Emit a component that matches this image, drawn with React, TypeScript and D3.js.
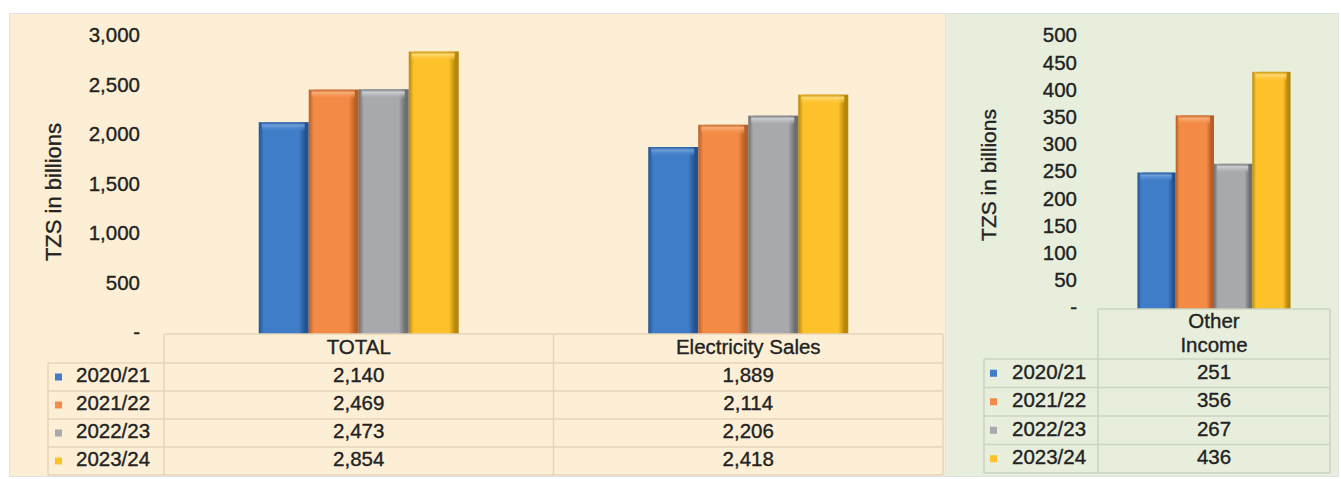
import React from "react";
import * as d3 from "d3";

const years = ["2020/21", "2021/22", "2022/23", "2023/24"];
const leftCategories = ["TOTAL", "Electricity Sales"];
const rightCategories = ["Other Income"];
const totalValues = [2140, 2469, 2473, 2854];
const electricityValues = [1889, 2114, 2206, 2418];
const otherIncomeValues = [251, 356, 267, 436];
const leftTicks = [0, 500, 1000, 1500, 2000, 2500, 3000];
const rightTicks = [0, 50, 100, 150, 200, 250, 300, 350, 400, 450, 500];
const axisTitle = "TZS in billions";

const seriesColors = [
  { base: "#3F7DC8", light: "#6E9FDB", dark: "#23528F" },
  { base: "#F38A45", light: "#F8AE78", dark: "#B65E25" },
  { base: "#A7A9AC", light: "#CDCFD2", dark: "#6C6E72" },
  { base: "#FDC12A", light: "#FFDA70", dark: "#B7870C" },
];

const W = 1341;
const H = 479;
const FONT = "'Liberation Sans', Arial, sans-serif";
const FS = 20.5;
const fmt = (v: number) => (v === 0 ? "-" : d3.format(",")(v));

function Bar({ x, y, w, h, ci }: { x: number; y: number; w: number; h: number; ci: number }) {
  return (
    <g>
      <rect x={x} y={y} width={w} height={h} fill={`url(#hg${ci})`} />
      <rect x={x + 3} y={y} width={w - 7} height={Math.min(10, h)} fill={`url(#vg${ci})`} rx={3} />
    </g>
  );
}

export default function App() {
  const lx = d3.scaleBand<string>().domain(leftCategories).range([164, 943]).paddingInner(0).paddingOuter(0);
  const lxi = d3.scaleBand<string>().domain(years).range([0, lx.bandwidth()]).paddingInner(0).paddingOuter(1.895);
  const ly = d3.scaleLinear().domain([0, 3000]).range([334, 37]);
  const leftData = [totalValues, electricityValues];

  const rx = d3.scaleBand<string>().domain(rightCategories).range([1098, 1330]).paddingInner(0).paddingOuter(0);
  const rxi = d3.scaleBand<string>().domain(years).range([0, rx.bandwidth()]).paddingInner(0).paddingOuter(1.03);
  const ry = d3.scaleLinear().domain([0, 500]).range([309, 37]);

  const lRowTop = 363;
  const lRowH = 28;
  const rRowTop = 359;
  const rRowH = 28.5;
  const beigeLine = "#E6D5B8";
  const greenLine = "#CBD5C0";
  const textColor = "#222";
  const ts = { fontSize: FS, fill: textColor, stroke: textColor, strokeWidth: 0.35 } as const;

  return (
    <svg width={W} height={H} style={{ position: "absolute", left: 0, top: 0, background: "#fff" }} fontFamily={FONT}>
      <defs>
        {seriesColors.map((c, i) => (
          <linearGradient key={`h${i}`} id={`hg${i}`} x1="0" x2="1" y1="0" y2="0">
            <stop offset="0" stopColor={c.dark} />
            <stop offset="0.1" stopColor={c.base} />
            <stop offset="0.45" stopColor={c.base} />
            <stop offset="0.8" stopColor={c.base} />
            <stop offset="0.93" stopColor={c.dark} />
            <stop offset="1" stopColor={c.dark} />
          </linearGradient>
        ))}
        {seriesColors.map((c, i) => (
          <linearGradient key={`v${i}`} id={`vg${i}`} x1="0" x2="0" y1="0" y2="1">
            <stop offset="0" stopColor={c.dark} stopOpacity={0.6} />
            <stop offset="0.3" stopColor={c.light} stopOpacity={1} />
            <stop offset="1" stopColor={c.base} stopOpacity={0} />
          </linearGradient>
        ))}
      </defs>

      <rect x={9.5} y={13.5} width={936} height={463} fill="#FCEFD6" stroke="#DDE2E6" />
      <rect x={945.5} y={13.5} width={393} height={463} fill="#E7EEDC" stroke="#DDE2E6" />

      <text transform={`translate(55,192) rotate(-90)`} textAnchor="middle" dominantBaseline="middle" {...ts} fontSize={22}>
        {axisTitle}
      </text>
      {leftTicks.map((t) => (
        <text key={`lt${t}`} x={140} y={ly(t)} textAnchor="end" dominantBaseline="middle" {...ts}>
          {fmt(t)}
        </text>
      ))}

      {leftCategories.map((cat, ci) =>
        years.map((yr, yi) => {
          const v = leftData[ci][yi];
          const x = (lx(cat) as number) + (lxi(yr) as number);
          return <Bar key={`lb${ci}-${yi}`} x={x} y={ly(v)} w={lxi.bandwidth()} h={ly(0) - ly(v)} ci={yi} />;
        })
      )}

      <g stroke={beigeLine} strokeWidth={1.5}>
        <line x1={164} x2={943} y1={334} y2={334} />
        {d3.range(years.length + 1).map((i) => (
          <line key={`lh${i}`} x1={48} x2={943} y1={lRowTop + i * lRowH} y2={lRowTop + i * lRowH} />
        ))}
        <line x1={48} x2={48} y1={lRowTop} y2={lRowTop + years.length * lRowH} />
        {leftCategories.map((cat) => (
          <line key={`lv${cat}`} x1={lx(cat) as number} x2={lx(cat) as number} y1={334} y2={lRowTop + years.length * lRowH} />
        ))}
        <line x1={943} x2={943} y1={334} y2={lRowTop + years.length * lRowH} />
      </g>
      {leftCategories.map((cat) => (
        <text key={`lc${cat}`} x={(lx(cat) as number) + lx.bandwidth() / 2} y={349} textAnchor="middle" dominantBaseline="middle" {...ts}>
          {cat}
        </text>
      ))}
      {years.map((yr, yi) => {
        const cy = lRowTop + yi * lRowH + lRowH / 2;
        return (
          <g key={`lr${yr}`}>
            <rect x={55} y={cy - 3.5} width={7} height={7} fill={seriesColors[yi].base} />
            <text x={76} y={cy} dominantBaseline="middle" {...ts}>
              {yr}
            </text>
            {leftCategories.map((cat, ci) => (
              <text key={`lv${cat}`} x={(lx(cat) as number) + lx.bandwidth() / 2} y={cy} textAnchor="middle" dominantBaseline="middle" {...ts}>
                {d3.format(",")(leftData[ci][yi])}
              </text>
            ))}
          </g>
        );
      })}

      <text transform={`translate(990,175) rotate(-90)`} textAnchor="middle" dominantBaseline="middle" {...ts} fontSize={21}>
        {axisTitle}
      </text>
      {rightTicks.map((t) => (
        <text key={`rt${t}`} x={1077} y={ry(t)} textAnchor="end" dominantBaseline="middle" {...ts}>
          {fmt(t)}
        </text>
      ))}

      {rightCategories.map((cat) =>
        years.map((yr, yi) => {
          const v = otherIncomeValues[yi];
          const x = (rx(cat) as number) + (rxi(yr) as number);
          return <Bar key={`rb${yi}`} x={x} y={ry(v)} w={rxi.bandwidth()} h={ry(0) - ry(v)} ci={yi} />;
        })
      )}

      <g stroke={greenLine} strokeWidth={1.5}>
        <line x1={1098} x2={1330} y1={309} y2={309} />
        {d3.range(years.length + 1).map((i) => (
          <line key={`rh${i}`} x1={984} x2={1330} y1={rRowTop + i * rRowH} y2={rRowTop + i * rRowH} />
        ))}
        <line x1={984} x2={984} y1={rRowTop} y2={rRowTop + years.length * rRowH} />
        <line x1={1098} x2={1098} y1={309} y2={rRowTop + years.length * rRowH} />
        <line x1={1330} x2={1330} y1={309} y2={rRowTop + years.length * rRowH} />
      </g>
      {rightCategories.map((cat) => {
        const cx = (rx(cat) as number) + rx.bandwidth() / 2;
        const words = cat.split(" ");
        return (
          <g key={`rc${cat}`}>
            {words.map((w, i) => (
              <text key={w} x={cx} y={323 + i * 24} textAnchor="middle" dominantBaseline="middle" {...ts}>
                {w}
              </text>
            ))}
          </g>
        );
      })}
      {years.map((yr, yi) => {
        const cy = rRowTop + yi * rRowH + rRowH / 2;
        return (
          <g key={`rr${yr}`}>
            <rect x={990} y={cy - 3.5} width={7} height={7} fill={seriesColors[yi].base} />
            <text x={1012} y={cy} dominantBaseline="middle" {...ts}>
              {yr}
            </text>
            <text x={(rx(rightCategories[0]) as number) + rx.bandwidth() / 2} y={cy} textAnchor="middle" dominantBaseline="middle" {...ts}>
              {d3.format(",")(otherIncomeValues[yi])}
            </text>
          </g>
        );
      })}
    </svg>
  );
}
